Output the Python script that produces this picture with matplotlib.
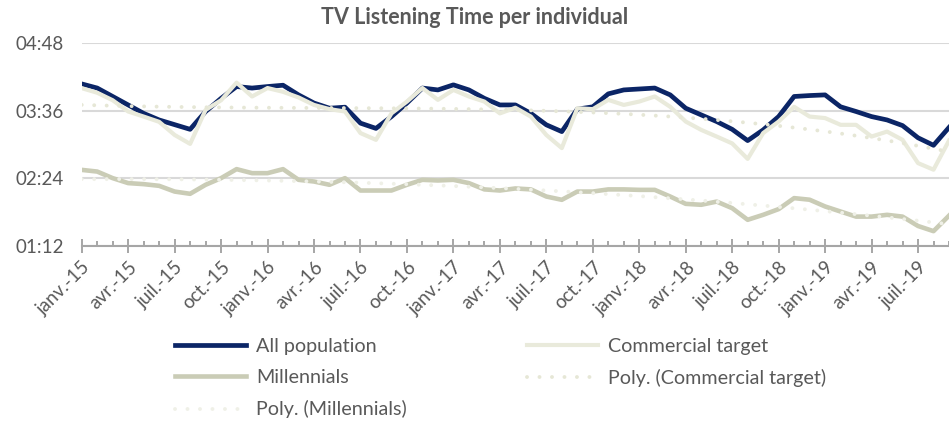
import numpy as np
import matplotlib
matplotlib.use("Agg")
import matplotlib.pyplot as plt
from matplotlib.ticker import FuncFormatter, MultipleLocator

plt.rcParams['font.family'] = ['Lato', 'DejaVu Sans']

# monthly values in minutes, janv.-15 .. sept.-19
all_pop = [244.4, 240, 231, 222, 213, 206, 201, 196, 215, 229,
           241.6, 240, 241.6, 243, 232.7, 224, 218.5, 219.6, 202.6, 197,
           209.6, 224, 240, 238, 243.4, 238, 229, 222, 222, 213,
           200.8, 193.6, 217.5, 220, 233.8, 238, 239, 240, 232.7, 218.5,
           211.4, 204.3, 196, 184, 195.4, 209.6, 231, 232, 232.7, 220,
           215, 209.6, 206, 200, 187, 179, 198]
commercial = [239.9, 235, 227, 215, 209.6, 204, 190, 180.5, 216.7, 227,
              245.8, 231, 240, 236, 230, 222, 217.5, 215, 192, 184.8,
              213, 225.6, 240, 227.4, 238, 231, 225.6, 213, 219, 209.6,
              190, 176, 218.5, 217.5, 227.4, 222, 225.6, 231, 220, 204.3,
              195.4, 188.3, 181, 164.5, 192, 204.3, 220, 209.6, 208, 200.8,
              200.8, 188.3, 193.6, 184.8, 160, 153, 184]
millennials = [152.8, 151, 144, 138.7, 137.6, 135.8, 129.7, 127.3, 136.9, 144,
               153.6, 149.3, 149.3, 153.6, 142.2, 140.4, 136.9, 144, 130.8, 130.8,
               130.8, 136.9, 142.2, 141.5, 142.2, 138.7, 132, 130.8, 133, 132,
               124.4, 120.9, 129.7, 129.7, 132, 132, 131.5, 131.5, 124.4, 116.6,
               115.6, 119, 112, 99.6, 104.9, 111, 122.7, 121, 113.8, 108.4,
               103, 103, 104.9, 103, 93, 87.5, 104]

month_names = ['janv.', 'févr.', 'mars', 'avr.', 'mai', 'juin',
               'juil.', 'août', 'sept.', 'oct.', 'nov.', 'déc.']
years = [15, 16, 17, 18, 19]

x = np.arange(len(all_pop))
labels = []
for i in x:
    labels.append(month_names[i % 12] + '-' + str(years[i // 12]))

# excel-style polynomial trendlines
poly_deg = 3
poly_comm = np.polyval(np.polyfit(x, commercial, poly_deg), x)
poly_mill = np.polyval(np.polyfit(x, millennials, poly_deg), x)

navy = '#0B2566'
c_comm = '#E9EADB'
c_mill = '#CACCB6'
c_pcomm = '#E6E7D6'
c_pmill = '#EFF0E7'
grey_txt = '#595959'

fig = plt.figure(figsize=(9.49, 4.21), dpi=100)
ax = fig.add_axes([81.7 / 949, 1 - 245.7 / 421, 1 - 81.7 / 949, (245.7 - 43) / 421])

l1, = ax.plot(x, all_pop, color=navy, lw=3.4, label='All population', zorder=3)
l2, = ax.plot(x, commercial, color=c_comm, lw=3.0, label='Commercial target', zorder=4)
l3, = ax.plot(x, millennials, color=c_mill, lw=3.3, label='Millennials', zorder=4)
l4, = ax.plot(x, poly_comm, color=c_pcomm, lw=2.8, ls=(0, (0.01, 3.2)),
              dash_capstyle='round', label='Poly. (Commercial target)', zorder=5)
l5, = ax.plot(x, poly_mill, color=c_pmill, lw=2.8, ls=(0, (0.01, 3.2)),
              dash_capstyle='round', label='Poly. (Millennials)', zorder=5)

ax.set_xlim(0, (949 - 81.7) / 15.6)
ax.set_ylim(72, 288)
ax.yaxis.set_major_locator(MultipleLocator(72))
ax.yaxis.set_major_formatter(FuncFormatter(lambda v, p: '%02d:%02d' % (v // 60, v % 60)))
ax.grid(axis='y', color='#D9D9D9', lw=1.5)
ax.set_axisbelow(True)

ax.set_xticks(x[::3])
ax.set_xticklabels(labels[::3], rotation=45, ha='right', va='top', rotation_mode='anchor')
ax.set_xticks(x, minor=True)

for s in ['top', 'right', 'left']:
    ax.spines[s].set_visible(False)
ax.spines['bottom'].set_color('#A6A6A6')
ax.spines['bottom'].set_linewidth(1.5)

ax.tick_params(axis='y', length=0, pad=13, labelsize=13.5, labelcolor=grey_txt)
ax.tick_params(axis='x', which='major', direction='inout', length=10, width=1.4,
               color='#A6A6A6', labelsize=13.5, labelcolor=grey_txt, pad=4)
ax.tick_params(axis='x', which='minor', direction='in', length=3.8, width=1.4, color='#A6A6A6')

fig.text(0.5, 1 - 18 / 421, 'TV Listening Time per individual', ha='center', va='center',
         fontsize=15.5, fontweight='bold', color=grey_txt)

leg = fig.legend([l1, l3, l5, l2, l4],
                 ['All population', 'Millennials', 'Poly. (Millennials)',
                  'Commercial target', 'Poly. (Commercial target)'],
                 ncol=2, loc='upper left', bbox_to_anchor=(175 / 949, 1 - 338 / 421),
                 frameon=False, fontsize=14.2, handlelength=3.6, handletextpad=0.5,
                 columnspacing=6.1, labelspacing=0.72, borderpad=0, borderaxespad=0)
for t in leg.get_texts():
    t.set_color(grey_txt)

fig.savefig('out.png', dpi=100)
